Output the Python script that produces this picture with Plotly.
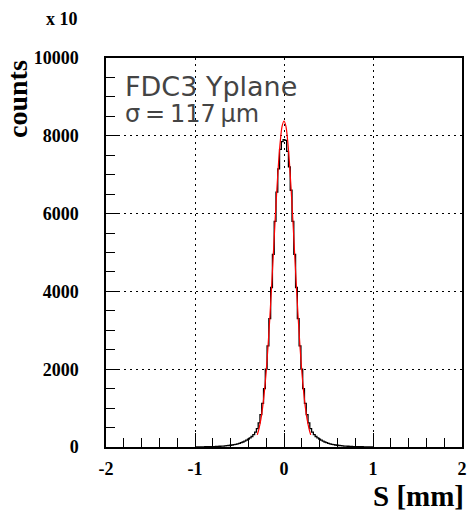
import plotly.graph_objects as go

# Histogram (black): bin centres in mm and counts (x10)
hist_x = [round(-1.0 + 0.02 * i, 2) for i in range(101)]
hist_y = [
    3, 3, 4, 4, 5, 5, 6, 7, 8, 9,            # -1.00 .. -0.82
    10, 12, 14, 16, 19, 22, 25, 29, 34, 39,  # -0.80 .. -0.62
    45, 52, 60, 70, 82, 95, 110, 128, 150, 175,  # -0.60 .. -0.42
    205, 235, 270, 320, 380, 470, 620, 830, 1120, 1500,  # -0.40 .. -0.22
    2000, 2600, 3300, 4100, 4950, 5800, 6550, 7150, 7650, 7850,  # -0.20 .. -0.02
    7900,                                     # 0.00
    7880, 7600, 7200, 6600, 5800, 4950, 4100, 3300, 2600, 2000,  # 0.02 .. 0.20
    1500, 1120, 830, 620, 470, 380, 320, 270, 235, 205,  # 0.22 .. 0.40
    175, 150, 128, 110, 95, 82, 70, 60, 52, 45,  # 0.42 .. 0.60
    39, 34, 29, 25, 22, 19, 16, 14, 12, 10,  # 0.62 .. 0.80
    9, 8, 7, 6, 5, 5, 4, 4, 3, 3,            # 0.82 .. 1.00
]

# Gaussian fit curve (red)
fit_x = [-0.30, -0.28, -0.26, -0.24, -0.22, -0.20, -0.18, -0.16, -0.14, -0.12,
         -0.10, -0.08, -0.06, -0.04, -0.02, 0.00, 0.02, 0.04, 0.06, 0.08,
         0.10, 0.12, 0.14, 0.16, 0.18, 0.20, 0.22, 0.24, 0.26, 0.28, 0.30]
fit_y = [310, 480, 710, 1020, 1430, 1940, 2570, 3290, 4100, 4950,
         5820, 6630, 7350, 7900, 8260, 8380, 8260, 7900, 7350, 6630,
         5820, 4950, 4100, 3290, 2570, 1940, 1430, 1020, 710, 480, 310]

x_tickvals = [-2, -1, 0, 1, 2]
x_ticktext = ["-2", "-1", "0", "1", "2"]
y_tickvals = [0, 2000, 4000, 6000, 8000, 10000]
y_ticktext = ["0", "2000", "4000", "6000", "8000", "10000"]

fig = go.Figure()
fig.add_trace(go.Scatter(x=hist_x, y=hist_y, mode="lines",
                         line=dict(color="black", width=1.3, shape="hvh"),
                         showlegend=False, hoverinfo="skip"))
fig.add_trace(go.Scatter(x=fit_x, y=fit_y, mode="lines",
                         line=dict(color="red", width=1.2, shape="spline"),
                         showlegend=False, hoverinfo="skip"))

serif = "Liberation Serif"
W, H = 472, 516
ML, MR, MT, MB = 106, 10, 58, 69
fig.update_layout(
    width=W, height=H,
    margin=dict(l=ML, r=MR, t=MT, b=MB, autoexpand=False),
    paper_bgcolor="white", plot_bgcolor="white",
    xaxis=dict(
        range=[-2, 2], tickvals=x_tickvals,
        ticktext=["<b>%s</b>" % t for t in x_ticktext],
        ticks="inside", ticklen=14, tickwidth=1, tickcolor="black",
        minor=dict(dtick=0.2, ticks="inside", ticklen=9, tickcolor="black", showgrid=False),
        showgrid=True, gridcolor="black", gridwidth=1, griddash="2px,4px",
        showline=True, linecolor="black", linewidth=1.5, mirror=True,
        zeroline=False, ticklabelstandoff=5, automargin=False,
        ticklabeloverflow="allow",
        tickfont=dict(family=serif, size=18, color="black", weight="bold"),
    ),
    yaxis=dict(
        range=[0, 10000], tickvals=y_tickvals,
        ticktext=["<b>%s</b>" % t for t in y_ticktext],
        ticks="inside", ticklen=14, tickwidth=1, tickcolor="black",
        minor=dict(dtick=500, ticks="inside", ticklen=9, tickcolor="black", showgrid=False),
        showgrid=True, gridcolor="black", gridwidth=1, griddash="2px,4px",
        showline=True, linecolor="black", linewidth=1.5, mirror=True,
        zeroline=False, ticklabelstandoff=22, automargin=False,
        ticklabeloverflow="allow",
        tickfont=dict(family=serif, size=18, color="black", weight="bold"),
    ),
    annotations=[
        dict(text="<b>counts</b>", x=17, y=99, xref="paper", yref="paper",
             showarrow=False, textangle=-90,
             font=dict(family=serif, size=28, color="black")),
        dict(text="<b>S [mm]</b>", x=418, y=496, xref="paper", yref="paper",
             showarrow=False, font=dict(family=serif, size=29, color="black")),
        dict(text="<b>x 10</b>", x=62, y=19, xref="paper", yref="paper",
             showarrow=False, font=dict(family=serif, size=18, color="black")),
        dict(text="FDC3 Yplane", x=123, y=87, xref="paper", yref="paper",
             showarrow=False, xanchor="left",
             font=dict(family="DejaVu Sans", size=27, color="#444444")),
        dict(text="σ\u2009=\u2009117\u2009μm", x=123, y=114, xref="paper", yref="paper",
             showarrow=False, xanchor="left",
             font=dict(family="DejaVu Sans", size=24, color="#444444")),
    ],
)

# convert pixel annotation positions to paper coordinates
pl, pr, pt, pb = ML, W - MR, MT, H - MB
for a in fig.layout.annotations:
    a.x = (a.x - pl) / (pr - pl)
    a.y = (pb - a.y) / (pb - pt)
    a.yanchor = "middle"
    if a.xanchor is None:
        a.xanchor = "center"

fig.write_html("out.html")
